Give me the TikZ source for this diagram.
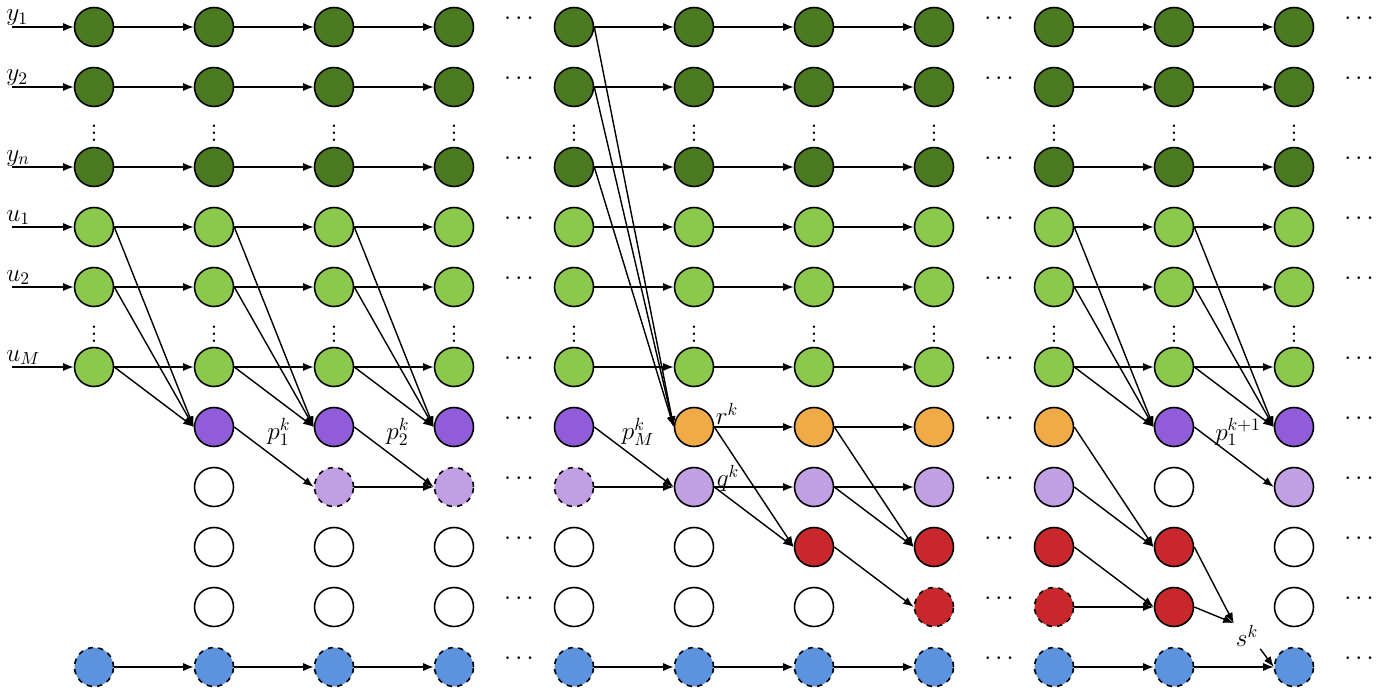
\documentclass[tikz,border=0pt]{standalone}
\usetikzlibrary{arrows.meta}
\definecolor{darkgreen}{RGB}{76,122,32}
\definecolor{lightgreen}{RGB}{140,200,76}
\definecolor{purplestate}{RGB}{145,92,218}
\definecolor{lilacstate}{RGB}{192,160,226}
\definecolor{orangestate}{RGB}{240,170,70}
\definecolor{redstate}{RGB}{200,40,44}
\definecolor{bluestate}{RGB}{92,146,222}
\tikzset{
  cell/.style={circle, draw=black, line width=0.9pt, minimum size=0.78cm, inner sep=0pt},
  darknode/.style={cell, fill=darkgreen},
  lightnode/.style={cell, fill=lightgreen},
  purplenode/.style={cell, fill=purplestate},
  lilacnode/.style={cell, fill=lilacstate},
  lilacdash/.style={lilacnode, dashed},
  orangenode/.style={cell, fill=orangestate},
  rednode/.style={cell, fill=redstate},
  reddash/.style={rednode, dashed},
  bluenode/.style={cell, fill=bluestate, dashed},
  emptynode/.style={cell, fill=white},
  link/.style={-{Latex[length=6pt,width=4.6pt]}, line width=0.8pt},
  lbl/.style={font=\Large, inner sep=1pt},
  dotsnode/.style={font=\Large, inner sep=0pt}
}
\begin{document}
\begin{tikzpicture}
[x = 0.02cm,
y = -0.02cm]
\useasboundingbox (0,0) rectangle (1390,696);

\foreach \c in {1,...,11} {
  \pgfmathsetmacro{\xc}{94+120*(\c-1)}
  \foreach \r/\yy in {1/27,2/87,3/167} \node[darknode] (n\c-\r) at (\xc,\yy) {};
  \foreach \r/\yy in {4/227,5/287,6/367} \node[lightnode] (n\c-\r) at (\xc,\yy) {};
  \node[bluenode] (n\c-11) at (\xc,667) {};
  \node[dotsnode] (va\c) at (\xc,128) {$\vdots$};
  \node[dotsnode] (vb\c) at (\xc,329) {$\vdots$};
}

\foreach \c/\sa/\sb/\sc/\sd in {2/purplenode/emptynode/emptynode/emptynode,
  3/purplenode/lilacdash/emptynode/emptynode, 4/purplenode/lilacdash/emptynode/emptynode,
  5/purplenode/lilacdash/emptynode/emptynode, 6/orangenode/lilacnode/emptynode/emptynode,
  7/orangenode/lilacnode/rednode/emptynode, 8/orangenode/lilacnode/rednode/reddash,
  9/orangenode/lilacnode/rednode/reddash, 10/purplenode/emptynode/rednode/rednode,
  11/purplenode/lilacnode/emptynode/emptynode} {
  \pgfmathsetmacro{\xc}{94+120*(\c-1)}
  \node[\sa] (n\c-7) at (\xc,427) {};
  \node[\sb] (n\c-8) at (\xc,487) {};
  \node[\sc] (n\c-9) at (\xc,547) {};
  \node[\sd] (n\c-10) at (\xc,607) {};
}

\foreach \xd in {519,999,1359}
  \foreach \yy in {27,87,167,227,287,367,427,487,547,607,667}
    \node[dotsnode] (h\xd-\yy) at (\xd,\yy-8) {$\cdots$};

\foreach \r/\yy/\t in {1/27/y_1, 2/87/y_2, 3/167/y_n, 4/227/u_1, 5/287/u_2, 6/367/u_M} {
  \coordinate (in\r) at (12,\yy);
  \node[anchor=base west, inner sep=0pt, font=\Large] (lab\r) at (6,\yy-6) {$\t$};
  \draw[link] (in\r) -- (n1-\r);
}

\foreach \r in {1,...,6,11}
  \foreach \a/\b in {1/2,2/3,3/4,5/6,6/7,7/8,9/10,10/11}
    \draw[link] (n\a-\r) -- (n\b-\r);
\draw[link] (n6-7) -- (n7-7);
\draw[link] (n7-7) -- (n8-7);
\foreach \a/\b in {3/4,5/6,6/7,7/8} \draw[link] (n\a-8) -- (n\b-8);
\draw[link] (n9-10) -- (n10-10);

\foreach \a/\b in {1/2,2/3,3/4,9/10,10/11}
  \foreach \r in {4,5,6} \draw[link] (n\a-\r.east) -- (n\b-7.west);
\foreach \r in {1,2,3} \draw[link] (n5-\r.east) -- (n6-7.west);

\draw[link] (n2-7.east) -- (n3-8.west);
\draw[link] (n3-7.east) -- (n4-8.west);
\draw[link] (n5-7.east) -- (n6-8.west);
\draw[link] (n10-7.east) -- (n11-8.west);

\draw[link] (n6-7.east) -- (n7-9.west);
\draw[link] (n6-8.east) -- (n7-9.west);
\draw[link] (n7-7.east) -- (n8-9.west);
\draw[link] (n7-8.east) -- (n8-9.west);
\draw[link] (n7-9.east) -- (n8-10.west);
\draw[link] (n9-7.east) -- (n10-9.west);
\draw[link] (n9-8.east) -- (n10-9.west);
\draw[link] (n9-9.east) -- (n10-10.west);

\node[lbl] (s) at (1247,636) {$s^k$};
\draw[link] (n10-9.east) -- (s.north west);
\draw[link] (n10-10.east) -- (s.north west);
\draw[link] (s.south east) -- (n11-11.west);

\node[lbl] (p1) at (279,432) {$p_1^k$};
\node[lbl] (p2) at (398,432) {$p_2^k$};
\node[lbl] (pM) at (638,432) {$p_M^k$};
\node[lbl] (r) at (727,414) {$r^k$};
\node[lbl] (q) at (728,478) {$q^k$};
\node[lbl] (pn) at (1238,432) {$p_1^{k+1}$};
\end{tikzpicture}
\end{document}
